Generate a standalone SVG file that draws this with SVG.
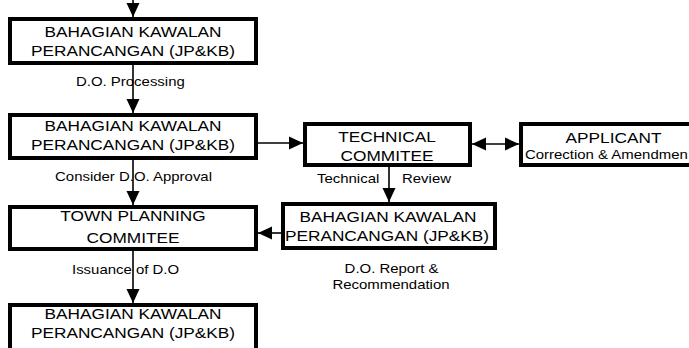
<svg xmlns="http://www.w3.org/2000/svg" width="689" height="348" viewBox="0 0 689 348">
<style>
.box{fill:#fff;stroke:#000;stroke-width:4}
.t{font-family:"Liberation Sans",Arial,sans-serif;font-size:15px;fill:#000}
.l{font-size:13px}
.c{text-anchor:middle}
.edge{stroke:#000;stroke-width:1.6;fill:none}
</style>
<defs>
<marker id="ah" markerUnits="userSpaceOnUse" markerWidth="14" markerHeight="14" refX="14" refY="7" orient="auto-start-reverse" viewBox="0 0 14 14">
<path d="M0,0.5 L14,7 L0,13.5 z" fill="#000"/>
</marker>
</defs>
<rect width="689" height="348" fill="#fff"/>
<g id="connectors">
<path class="edge" d="M133,0 L133,17" marker-end="url(#ah)"/>
<path class="edge" d="M133,65 L133,113" marker-end="url(#ah)"/>
<path class="edge" d="M133,159 L133,205" marker-end="url(#ah)"/>
<path class="edge" d="M133,251 L133,303" marker-end="url(#ah)"/>
<path class="edge" d="M258,143 L303,143" marker-end="url(#ah)"/>
<path class="edge" d="M472,144 L519,144" marker-start="url(#ah)" marker-end="url(#ah)"/>
<path class="edge" d="M389,166 L389,202" marker-end="url(#ah)"/>
<path class="edge" d="M281,233 L258,233" marker-end="url(#ah)"/>
<text class="t l" transform="translate(76,86) scale(1.15,1)">D.O. Processing</text>
<text class="t l c" transform="translate(133.5,181) scale(1.15,1)">Consider D.O. Approval</text>
<text class="t l" transform="translate(72,274) scale(1.15,1)">Issuance of D.O</text>
<text class="t l" transform="translate(317,183) scale(1.15,1)">Technical</text>
<text class="t l" transform="translate(402,183) scale(1.15,1)">Review</text>
<text class="t l c" transform="translate(391.5,273) scale(1.15,1)">D.O. Report &amp;</text>
<text class="t l c" transform="translate(391,289) scale(1.15,1)">Recommendation</text>
</g>
<g id="n1">
<rect class="box" x="10" y="19" width="246" height="44"/>
<text class="t c" transform="translate(133,37) scale(1.15,1)">BAHAGIAN KAWALAN</text>
<text class="t c" transform="translate(133,56) scale(1.15,1)">PERANCANGAN (JP&amp;KB)</text>
</g>
<g id="n2">
<rect class="box" x="10" y="115" width="246" height="43"/>
<text class="t c" transform="translate(133,131) scale(1.15,1)">BAHAGIAN KAWALAN</text>
<text class="t c" transform="translate(133,150) scale(1.15,1)">PERANCANGAN (JP&amp;KB)</text>
</g>
<g id="n3">
<rect class="box" x="10" y="207" width="246" height="42"/>
<text class="t c" transform="translate(133,221) scale(1.15,1)">TOWN PLANNING</text>
<text class="t c" transform="translate(133,243) scale(1.15,1)">COMMITEE</text>
</g>
<g id="n4">
<rect class="box" x="10" y="305" width="246" height="60"/>
<text class="t c" transform="translate(133,319) scale(1.15,1)">BAHAGIAN KAWALAN</text>
<text class="t c" transform="translate(133,338) scale(1.15,1)">PERANCANGAN (JP&amp;KB)</text>
</g>
<g id="n5">
<rect class="box" x="305" y="124" width="165" height="41"/>
<text class="t c" transform="translate(387,142) scale(1.15,1)">TECHNICAL</text>
<text class="t c" transform="translate(387,161) scale(1.15,1)">COMMITEE</text>
</g>
<g id="n6">
<rect class="box" x="283" y="204" width="212" height="44"/>
<text class="t c" transform="translate(388,222) scale(1.15,1)">BAHAGIAN KAWALAN</text>
<text class="t c" transform="translate(387,241) scale(1.15,1)">PERANCANGAN (JP&amp;KB)</text>
</g>
<g id="n7">
<path class="box" d="M689,124 H521 V165 H689"/>
<text class="t c" transform="translate(613.5,143) scale(1.15,1)">APPLICANT</text>
<text class="t l" transform="translate(525,159) scale(1.15,1)">Correction &amp; Amendmen</text>
</g>
</svg>
